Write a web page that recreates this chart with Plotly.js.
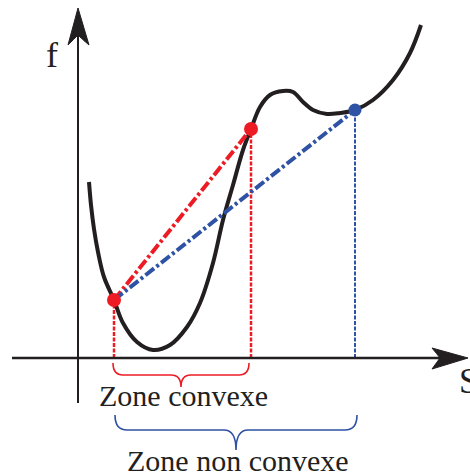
<!DOCTYPE html>
<html>
<head>
<meta charset="utf-8">
<script src="https://cdn.plot.ly/plotly-3.0.1.min.js"></script>
<style>html,body{margin:0;padding:0;background:#fff;}#chart{width:470px;height:473px;}</style>
</head>
<body>
<div id="chart"></div>
<script>
// Curve f(S) (origin at the axes crossing)
const curveX = [11, 13, 16, 20, 26, 36, 45, 59, 75, 92, 109, 122, 135, 145, 155, 165, 173, 182, 192, 205, 215, 225, 235, 249, 262, 277, 295, 315, 332, 343];
const curveY = [176, 153, 129, 106, 81, 58, 35, 16, 8, 13, 31, 55, 95, 138, 173, 208, 229, 251, 263, 267, 266, 256, 248, 244, 245, 248, 258, 278, 305, 333];

// Marked points on the curve
const pointA = [36, 58];    // left point (red)
const pointB = [173, 229];  // end of convex zone (red)
const pointC = [277, 248];  // end of non-convex zone (blue)

// Labels
const axisLabelY = "f";
const axisLabelX = "S";
const zoneLabels = ["Zone convexe", "Zone non convexe"];

const RED = "#ED1C24";
const BLUE = "#2E52A4";
const INK = "#231F20";
const FONT = "Liberation Serif, Times New Roman, serif";

const traces = [
  // vertical dotted projections
  {x: [pointA[0], pointA[0]], y: [0, pointA[1]], mode: "lines", line: {color: RED, width: 2.5, dash: "4px,1.5px"}, hoverinfo: "skip"},
  {x: [pointB[0], pointB[0]], y: [0, pointB[1]], mode: "lines", line: {color: RED, width: 2.5, dash: "4px,1.5px"}, hoverinfo: "skip"},
  {x: [pointC[0], pointC[0]], y: [0, pointC[1]], mode: "lines", line: {color: BLUE, width: 2, dash: "4px,1.5px"}, hoverinfo: "skip"},
  // curve
  {x: curveX, y: curveY, mode: "lines", line: {color: INK, width: 4, shape: "spline", smoothing: 1}, hoverinfo: "skip"},
  // chords
  {x: [pointA[0], pointB[0]], y: [pointA[1], pointB[1]], mode: "lines", line: {color: RED, width: 4, dash: "11px,3px,3px,3px"}, hoverinfo: "skip"},
  {x: [pointA[0], pointC[0]], y: [pointA[1], pointC[1]], mode: "lines", line: {color: BLUE, width: 4, dash: "11px,3px,3px,3px"}, hoverinfo: "skip"},
  // points
  {x: [pointA[0], pointB[0]], y: [pointA[1], pointB[1]], mode: "markers", marker: {color: RED, size: 14}, hoverinfo: "skip"},
  {x: [pointC[0]], y: [pointC[1]], mode: "markers", marker: {color: BLUE, size: 13}, hoverinfo: "skip"}
];

function brace(x1, x2, yTop, yMid, yTip, r) {
  const xc = (x1 + x2) / 2;
  return `M ${x1},${yTop} Q ${x1},${yMid} ${x1 + r},${yMid} L ${xc - r},${yMid} Q ${xc},${yMid} ${xc},${yTip} ` +
         `Q ${xc},${yMid} ${xc + r},${yMid} L ${x2 - r},${yMid} Q ${x2},${yMid} ${x2},${yTop}`;
}

const shapes = [
  // axes
  {type: "line", xref: "x", yref: "y", x0: 0, x1: 0, y0: -45, y1: 330, line: {color: INK, width: 2}},
  {type: "line", xref: "x", yref: "y", x0: -66, x1: 370, y0: 0, y1: 0, line: {color: INK, width: 2.5}},
  // arrowheads
  {type: "path", xref: "x", yref: "y", path: "M 0,350 L 11,313 Q 4,319 0,323 Q -4,319 -10,313 Z", fillcolor: INK, line: {color: INK, width: 1}},
  {type: "path", xref: "x", yref: "y", path: "M 390,0 L 354,10 Q 359,4 362,0 Q 359,-4 354,-11 Z", fillcolor: INK, line: {color: INK, width: 1}},
  // braces
  {type: "path", xref: "x", yref: "y", path: brace(pointA[0] - 1, pointB[0] - 2, -5, -17, -29, 10), line: {color: RED, width: 1.6}},
  {type: "path", xref: "x", yref: "y", path: brace(pointA[0] + 1, pointC[0] + 2, -57, -72, -92, 12), line: {color: BLUE, width: 1.6}}
];

const annotations = [
  {x: -26, y: 303, xref: "x", yref: "y", text: axisLabelY, showarrow: false, font: {family: FONT, size: 36, color: INK}, xanchor: "center", yanchor: "middle"},
  {x: 379, y: -23, xref: "x", yref: "y", text: axisLabelX, showarrow: false, font: {family: FONT, size: 35, color: INK}, xanchor: "left", yanchor: "middle"},
  {x: 105, y: -37, xref: "x", yref: "y", text: zoneLabels[0], showarrow: false, font: {family: FONT, size: 30, color: INK}, xanchor: "center", yanchor: "middle"},
  {x: 160, y: -102, xref: "x", yref: "y", text: zoneLabels[1], showarrow: false, font: {family: FONT, size: 30, color: INK}, xanchor: "center", yanchor: "middle"}
];

const layout = {
  width: 470, height: 473,
  margin: {l: 0, r: 0, t: 0, b: 0, pad: 0},
  paper_bgcolor: "#fff", plot_bgcolor: "#fff",
  showlegend: false,
  xaxis: {range: [-78, 392], visible: false, fixedrange: true},
  yaxis: {range: [-115, 358], visible: false, fixedrange: true},
  shapes: shapes,
  annotations: annotations
};

Plotly.newPlot("chart", traces, layout, {staticPlot: true, displayModeBar: false});
</script>
</body>
</html>
